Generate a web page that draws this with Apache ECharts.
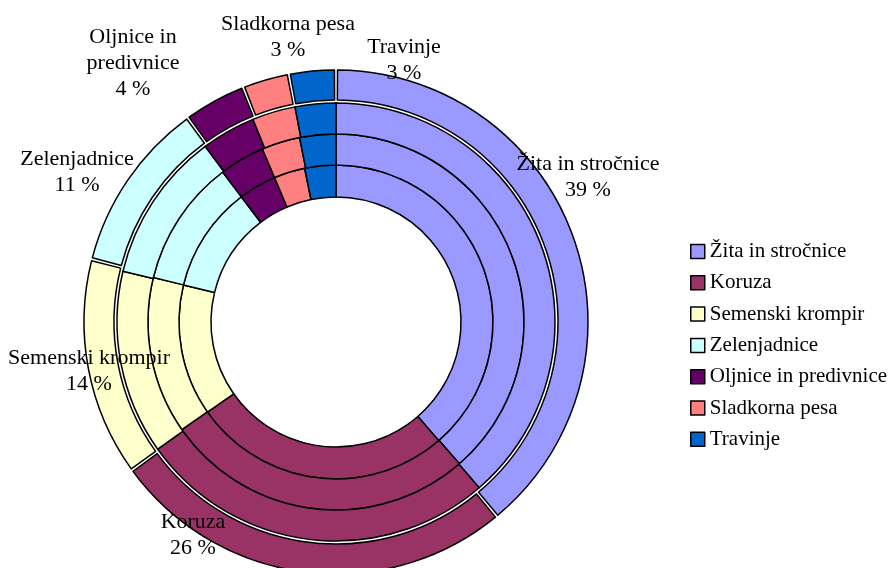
<!DOCTYPE html>
<html>
<head>
<meta charset="utf-8">
<script src="https://cdn.jsdelivr.net/npm/echarts@6/dist/echarts.min.js"></script>
<style>html,body{margin:0;padding:0;background:#fff}#c{width:889px;height:568px}</style>
</head>
<body>
<div id="c"></div>
<script>
var categories = ['Žita in stročnice','Koruza','Semenski krompir','Zelenjadnice','Oljnice in predivnice','Sladkorna pesa','Travinje'];
var ring1 = [38.6, 26.6, 13.5, 10.9, 3.9, 3.2, 3.2];
var ring2 = [38.6, 26.7, 13.5, 10.9, 3.9, 3.3, 3.1];
var ring3 = [38.7, 26.5, 13.6, 11.1, 4.0, 3.2, 3.0];
var outer = [39, 26, 14, 11, 4, 3, 3];
var colors = ['#9999FF','#993366','#FFFFCC','#CCFFFF','#660066','#FF8080','#0066CC'];
var labelPos = [[588,177],[193,535],[89,371],[77,172],[133,63],[288,37],[404,60]];

var FONT = 'Liberation Serif, Times New Roman, serif';
var chart = echarts.init(document.getElementById('c'), null, {renderer:'canvas'});

function mk(vals){
  return vals.map(function(v,i){
    return {name: categories[i], value: v, itemStyle:{color: colors[i]}};
  });
}
var baseItem = {borderColor:'#000', borderWidth:1.5};
function ring(vals, r){
  return {
    type:'pie', center:[336,322], radius:r, startAngle:90, clockwise:true,
    animation:false, silent:true, label:{show:false}, labelLine:{show:false},
    itemStyle: baseItem, data: mk(vals)
  };
}
var series = [
  ring(ring1,[125,157]),
  ring(ring2,[157,188]),
  ring(ring3,[188,219]),
  {
    type:'pie', center:[336,322], radius:[222,252], startAngle:90, clockwise:true,
    padAngle:0.7,
    animation:false, silent:true, percentPrecision:0,
    avoidLabelOverlap:false,
    itemStyle: baseItem,
    label:{
      show:true, position:'outside', color:'#000', fontFamily:FONT, fontSize:22,
      lineHeight:26, align:'center',
      formatter:function(p){
        var n = p.name;
        if(n.length > 18){ var k = n.indexOf(' ', n.indexOf(' ')+1); n = n.slice(0,k) + '\n' + n.slice(k+1); }
        return n + '\n' + p.value + ' %';
      }
    },
    labelLine:{show:false},
    labelLayout:function(p){
      var pos = labelPos[p.dataIndex];
      return {x:pos[0], y:pos[1], align:'center', verticalAlign:'middle'};
    },
    data: mk(outer)
  }
];

chart.setOption({
  backgroundColor:'#fff',
  animation:false,
  legend:{
    orient:'vertical', left:690, top:241, padding:0, itemWidth:14, itemHeight:14, itemGap:10.3,
    icon:'rect',
    itemStyle:{borderColor:'#000', borderWidth:1.5},
    textStyle:{fontFamily:FONT, fontSize:21, color:'#000', lineHeight:21},
    data: categories
  },
  series: series
});
</script>
</body>
</html>
